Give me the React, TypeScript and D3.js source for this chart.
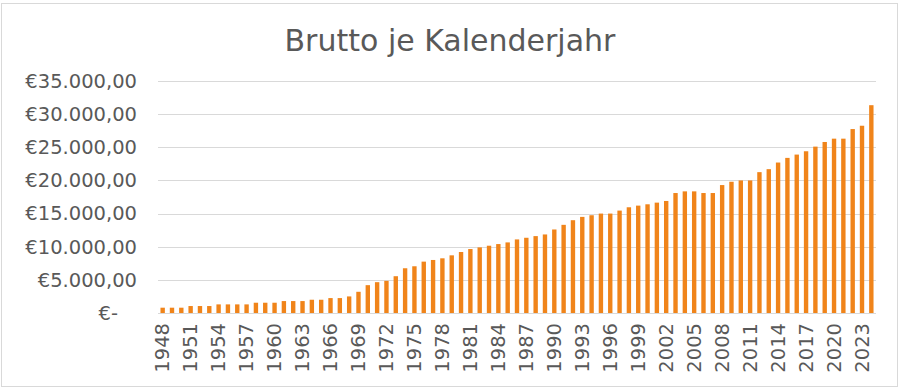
import React from "react";
import * as d3 from "d3";

const title = "Brutto je Kalenderjahr";

const years: number[] = d3.range(1948, 2025);

const grossValues: number[] = [
  800, 800, 800, 1050, 1050, 1050, 1300, 1300, 1300, 1300,
  1550, 1550, 1550, 1800, 1800, 1800, 2000, 2000, 2250, 2250,
  2500, 3200, 4200, 4650, 4850, 5550, 6750, 7050, 7750, 8000,
  8250, 8700, 9200, 9650, 9900, 10150, 10400, 10650, 11100, 11350,
  11600, 11850, 12600, 13300, 14000, 14500, 14750, 15000, 15000, 15450,
  15950, 16200, 16400, 16650, 16900, 18100, 18350, 18350, 18100, 18100,
  19300, 19800, 20000, 20000, 21250, 21700, 22700, 23400, 23900, 24400,
  25100, 25800, 26300, 26300, 27750, 28250, 31350,
];

const yTicks: number[] = [0, 5000, 10000, 15000, 20000, 25000, 30000, 35000];

const W = 900;
const H = 389;
const FONT = "'DejaVu Sans', Verdana, sans-serif";
const TEXT = "#595959";
const GRID = "#D9D9D9";
const BAR = "#F0841A";

const locale = d3.formatLocale({
  decimal: ",",
  thousands: ".",
  grouping: [3],
  currency: ["€", ""],
});
const fmt = locale.format("$,.2f");
const tickLabel = (v: number) => (v === 0 ? "€-" : fmt(v));

export default function App() {
  const x = d3
    .scaleBand<number>()
    .domain(years)
    .range([158, 876])
    .paddingInner(0.53)
    .paddingOuter(0.265);
  const y = d3.scaleLinear().domain([0, 35000]).range([313, 81]);

  return (
    <svg
      width={W}
      height={H}
      style={{ position: "absolute", left: 0, top: 0, background: "#fff" }}
    >
      <rect x={1.5} y={3.5} width={896} height={383} fill="#fff" stroke={GRID} strokeWidth={1} />
      <text
        x={450}
        y={51}
        textAnchor="middle"
        fontFamily={FONT}
        fontSize={30}
        fill={TEXT}
      >
        {title}
      </text>
      {yTicks.map((t) => (
        <g key={t}>
          <line
            x1={158}
            x2={876}
            y1={Math.round(y(t)) + 0.5}
            y2={Math.round(y(t)) + 0.5}
            stroke={GRID}
            strokeWidth={1}
          />
          <text
            x={t === 0 ? 118 : 137}
            y={y(t)}
            dy="0.35em"
            textAnchor="end"
            fontFamily={FONT}
            fontSize={19.5}
            fill={TEXT}
          >
            {tickLabel(t)}
          </text>
        </g>
      ))}
      {years.map((yr, i) => (
        <rect
          key={yr}
          x={x(yr)!}
          y={y(grossValues[i])}
          width={x.bandwidth()}
          height={y(0) - y(grossValues[i])}
          fill={BAR}
        />
      ))}
      {years
        .filter((_, i) => i % 3 === 0)
        .map((yr) => {
          const cx = x(yr)! + x.bandwidth() / 2;
          return (
            <text
              key={yr}
              transform={`translate(${cx},323) rotate(-90)`}
              dy="0.35em"
              textAnchor="end"
              fontFamily={FONT}
              fontSize={19.5}
              fill={TEXT}
            >
              {yr}
            </text>
          );
        })}
    </svg>
  );
}
